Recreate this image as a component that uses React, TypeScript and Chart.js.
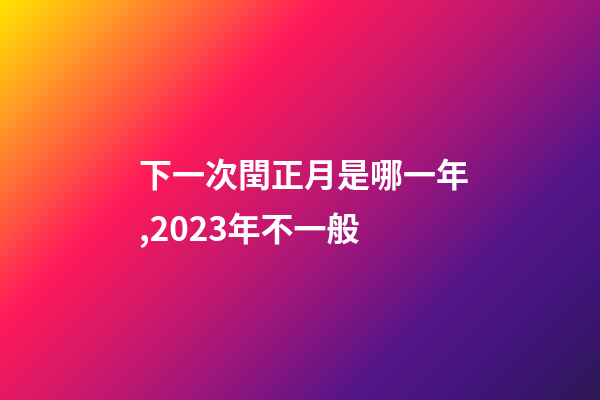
import { useEffect, useRef } from 'react';
import { Chart, registerables } from 'chart.js';

Chart.register(...registerables);

// headline text, two lines
const titleLines = ['下一次閏正月是哪一年', ',2023年不一般'];

// background gradient, runs from top-left corner to bottom-right corner
const stopOffsets = [0, 0.15, 0.32, 0.45, 0.58, 0.74, 0.88, 1];
const stopColors = ['#ffe400', '#ff8a2c', '#ff1a58', '#d41868', '#a2167a', '#561588', '#3e1478', '#2c1852'];

const gradientBackground = {
  id: 'gradientBackground',
  beforeDraw(chart: Chart) {
    const { ctx, width, height } = chart;
    // 45 degree direction: x + y goes from 0 to width + height
    const len = (width + height) / 2;
    const grad = ctx.createLinearGradient(0, 0, len, len);
    stopOffsets.forEach((o, i) => grad.addColorStop(o, stopColors[i]));
    ctx.save();
    ctx.fillStyle = grad;
    ctx.fillRect(0, 0, width, height);
    ctx.restore();
  },
};

export default function App() {
  const chartRef = useRef<HTMLCanvasElement>(null);
  const chartInstance = useRef<Chart | null>(null);

  useEffect(() => {
    if (!chartRef.current) return;
    const ctx = chartRef.current.getContext('2d');
    if (!ctx) return;

    if (chartInstance.current) {
      chartInstance.current.destroy();
    }

    chartInstance.current = new Chart(ctx, {
      type: 'scatter',
      data: { datasets: [] },
      options: {
        animation: false,
        responsive: true,
        maintainAspectRatio: false,
        events: [],
        plugins: {
          legend: { display: false },
          tooltip: { enabled: false },
        },
        scales: {
          x: { display: false },
          y: { display: false },
        },
      },
      plugins: [gradientBackground],
    });

    return () => {
      if (chartInstance.current) {
        chartInstance.current.destroy();
        chartInstance.current = null;
      }
    };
  }, []);

  return (
    <div style={{ position: 'fixed', left: 0, top: 0, width: 600, height: 400, overflow: 'hidden' }}>
      <canvas ref={chartRef}></canvas>
      <div
        style={{
          position: 'absolute',
          left: 139,
          top: 146,
          color: '#ffffff',
          fontFamily: '"Noto Sans CJK SC", "Noto Sans", sans-serif',
          fontWeight: 700,
          fontSize: 33,
          lineHeight: '54px',
          whiteSpace: 'nowrap',
        }}
      >
        {titleLines.map((line) => (
          <div key={line}>{line}</div>
        ))}
      </div>
    </div>
  );
}
